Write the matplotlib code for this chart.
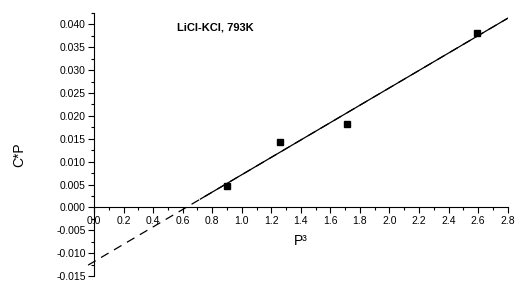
import numpy as np
import matplotlib
matplotlib.use("Agg")
import matplotlib.pyplot as plt
from matplotlib.ticker import MultipleLocator, FormatStrFormatter

plt.rcParams["font.family"] = ["Liberation Sans", "DejaVu Sans"]

# data
p3 = [0.90, 1.26, 1.71, 2.59]
cp = [0.0047, 0.0144, 0.0182, 0.0380]
extrap_range = [-0.04, 2.8]   # dashed extrapolation of the fit
solid_range = [0.72, 2.8]     # solid part of the fit
label_text = "LiCl-KCl, 793K"

slope, icpt = np.polyfit(p3, cp, 1)

fig = plt.figure(figsize=(5.2, 2.81), dpi=100)
ax = fig.add_axes([0.1808, 0.0171, 0.7955, 0.9372])

xd = np.array(extrap_range)
ax.plot(xd, slope * xd + icpt, color="black", lw=0.9, ls=(0, (7, 5)), clip_on=False)
xs = np.array(solid_range)
ax.plot(xs, slope * xs + icpt, color="black", lw=0.9)
ax.plot(p3, cp, "s", color="black", ms=5, zorder=3)

ax.set_xlim(0, 2.8)
ax.set_ylim(-0.015, 0.0425)

ax.spines["top"].set_visible(False)
ax.spines["right"].set_visible(False)
ax.spines["bottom"].set_position(("data", 0))

ax.xaxis.set_major_locator(MultipleLocator(0.2))
ax.xaxis.set_minor_locator(MultipleLocator(0.1))
ax.yaxis.set_major_locator(MultipleLocator(0.005))
ax.yaxis.set_minor_locator(MultipleLocator(0.0025))
ax.xaxis.set_major_formatter(FormatStrFormatter("%.1f"))
ax.yaxis.set_major_formatter(FormatStrFormatter("%.3f"))

ax.tick_params(which="major", direction="out", length=4, width=0.8, labelsize=7.5, pad=2)
ax.tick_params(which="minor", direction="out", length=2, width=0.8)

ax.set_xlabel("P³", fontsize=10)
ax.xaxis.set_label_coords(0.5, 0.16)
ax.set_ylabel("C*P", fontsize=10)
ax.yaxis.set_label_coords(-0.165, 0.46)

ax.text(0.56, 0.0392, label_text, fontsize=8, fontweight="bold", va="center", ha="left")

fig.savefig("out.png", dpi=100)
